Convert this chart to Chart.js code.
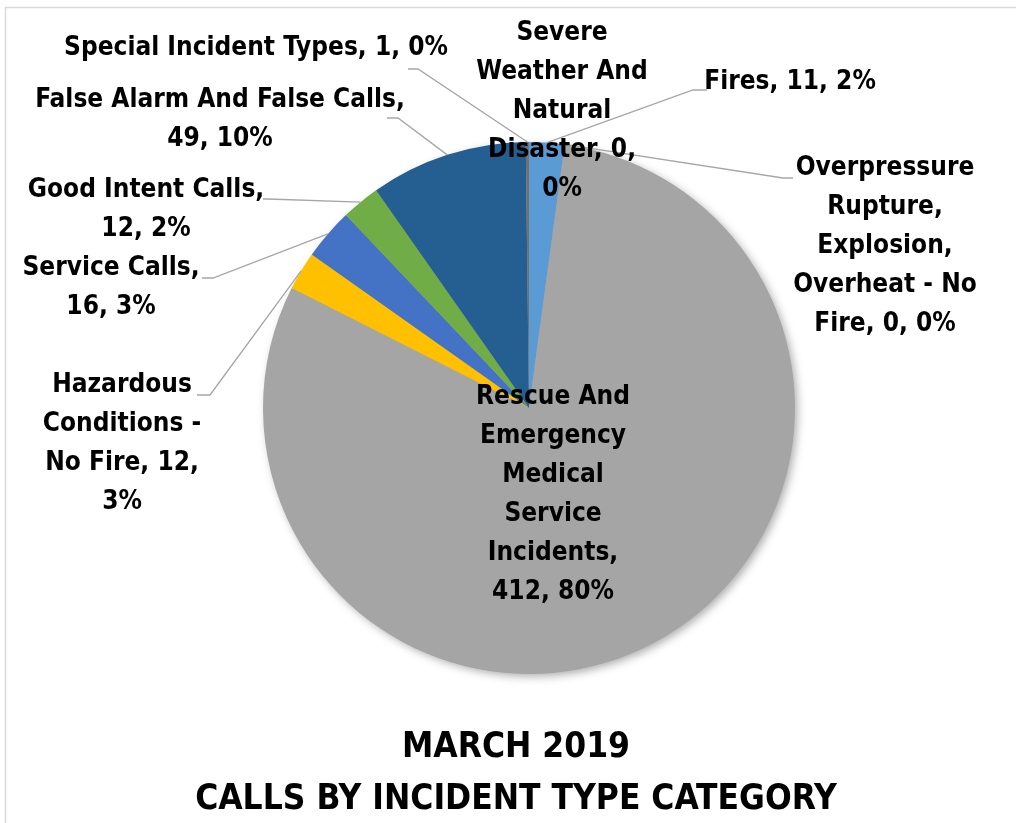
<!DOCTYPE html>
<html>
<head>
<meta charset="utf-8">
<script src="https://cdn.jsdelivr.net/npm/chart.js@4/dist/chart.umd.min.js"></script>
<style>
  html, body { margin: 0; padding: 0; background: #fff; }
  #wrap { width: 1016px; height: 823px; }
</style>
</head>
<body>
<div id="wrap"><canvas id="chart" width="1016" height="823"></canvas></div>
<script>
const categories = [
    'Fires',
    'Overpressure Rupture, Explosion, Overheat - No Fire',
    'Rescue And Emergency Medical Service Incidents',
    'Hazardous Conditions - No Fire',
    'Service Calls',
    'Good Intent Calls',
    'False Alarm And False Calls',
    'Special Incident Types',
    'Severe Weather And Natural Disaster'
]
const calls = [11, 0, 412, 12, 16, 12, 49, 1, 0]
const percents = [2, 0, 80, 3, 3, 2, 10, 0, 0]
const titleLines = ['MARCH 2019', 'CALLS BY INCIDENT TYPE CATEGORY']

const sliceColors = ['#5B9BD5', '#ED7D31', '#A5A5A5', '#FFC000', '#4472C4', '#70AD47', '#255E91', '#767171', '#636363']

// where each data label goes: centre x, first line y, words per line, leader elbow [x, y, x2]
const labelLayout = [
    { x: 790, y: 82, words: [3], leader: [707, 90, 693] },
    { x: 885, y: 168, words: [1, 1, 1, 3, 3], leader: [793, 178, 783] },
    { x: 553, y: 397, words: [2, 1, 1, 1, 1, 2], leader: null },
    { x: 122, y: 385, words: [1, 2, 3, 1], leader: [197, 395, 210] },
    { x: 111, y: 268, words: [2, 2], leader: [202, 278, 213] },
    { x: 146, y: 190, words: [3, 2], leader: [263, 199, 268] },
    { x: 220, y: 100, words: [5, 2], leader: [387, 118, 398] },
    { x: 256, y: 48, words: [5], leader: [408, 69, 418] },
    { x: 562, y: 33, words: [1, 2, 1, 2, 1], leader: null }
]

const labelFont = "bold 26px 'DejaVu Sans Condensed', 'DejaVu Sans', sans-serif"
const titleFont = "bold 35px 'DejaVu Sans Condensed', 'DejaVu Sans', sans-serif"
const lineHeight = 39

function splitLines(text, counts) {
    const words = text.split(' ')
    const lines = []
    let i = 0
    counts.forEach(n => {
        lines.push(words.slice(i, i + n).join(' '))
        i += n
    })
    return lines
}

const pieExtras = {
    id: 'pieExtras',
    beforeDraw(chart) {
        const ctx = chart.ctx
        ctx.save()
        ctx.strokeStyle = '#D9D9D9'
        ctx.lineWidth = 1.5
        ctx.strokeRect(5.5, 7.5, 1200, 1000)
        ctx.restore()
    },
    beforeDatasetsDraw(chart) {
        // soft shadow under the whole pie
        const arc = chart.getDatasetMeta(0).data[0]
        const ctx = chart.ctx
        ctx.save()
        ctx.shadowColor = 'rgba(0, 0, 0, 0.35)'
        ctx.shadowBlur = 10
        ctx.shadowOffsetX = 3
        ctx.shadowOffsetY = 3
        ctx.fillStyle = '#A5A5A5'
        ctx.beginPath()
        ctx.arc(arc.x, arc.y, arc.outerRadius - 1, 0, Math.PI * 2)
        ctx.fill()
        ctx.restore()
    },
    afterDatasetsDraw(chart) {
        const ctx = chart.ctx
        const arcs = chart.getDatasetMeta(0).data
        ctx.save()

        // leader lines
        ctx.strokeStyle = '#A6A6A6'
        ctx.lineWidth = 1.3
        arcs.forEach((arc, i) => {
            const lay = labelLayout[i]
            if (!lay.leader) return
            const mid = (arc.startAngle + arc.endAngle) / 2
            const px = arc.x + Math.cos(mid) * arc.outerRadius
            const py = arc.y + Math.sin(mid) * arc.outerRadius
            ctx.beginPath()
            ctx.moveTo(lay.leader[0], lay.leader[1])
            ctx.lineTo(lay.leader[2], lay.leader[1])
            ctx.lineTo(px, py)
            ctx.stroke()
        })

        // labels
        ctx.fillStyle = '#000'
        ctx.font = labelFont
        ctx.textAlign = 'center'
        ctx.textBaseline = 'middle'
        categories.forEach((name, i) => {
            const lay = labelLayout[i]
            const text = `${name}, ${calls[i]}, ${percents[i]}%`
            splitLines(text, lay.words).forEach((line, k) => {
                ctx.fillText(line, lay.x, lay.y + k * lineHeight)
            })
        })

        // title
        ctx.font = titleFont
        ctx.fillText(titleLines[0], 516, 748)
        ctx.fillText(titleLines[1], 516, 800)
        ctx.restore()
    }
}

const ctx = document.getElementById('chart').getContext('2d')
const chart = new Chart(ctx, {
    type: 'pie',
    data: {
        labels: categories,
        datasets: [{
            data: calls,
            backgroundColor: sliceColors,
            borderWidth: 0
        }]
    },
    options: {
        responsive: false,
        animation: false,
        layout: {
            padding: { left: 263, right: 221, top: 142, bottom: 149 }
        },
        plugins: {
            legend: { display: false },
            tooltip: { enabled: false }
        }
    },
    plugins: [pieExtras]
})
</script>
</body>
</html>
